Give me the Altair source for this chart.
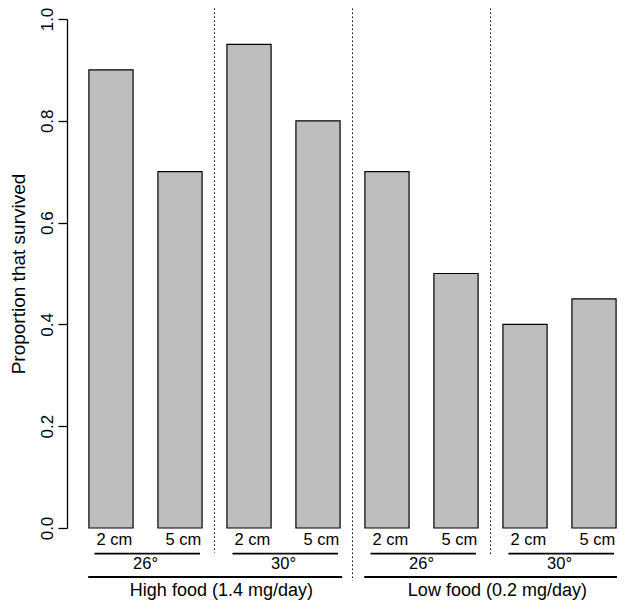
import altair as alt
import pandas as pd

# ---- data ----
depths = ["2 cm", "5 cm", "2 cm", "5 cm", "2 cm", "5 cm", "2 cm", "5 cm"]
survival = [0.90, 0.70, 0.95, 0.80, 0.70, 0.50, 0.40, 0.45]
temps = ["26°", "30°", "26°", "30°"]
temp_start = [0, 2, 4, 6]
foods = ["High food (1.4 mg/day)", "Low food (0.2 mg/day)"]
food_start = [0, 4]
separators = [1.5, 3.5, 5.5]
sep_bottom = [-0.049, -0.104, -0.052]
y_ticks = [0.0, 0.2, 0.4, 0.6, 0.8, 1.0]

FONT = "Liberation Sans"
XDOM = [-0.6377, 7.3333]
YDOM = [0.0, 1.0]

n = len(survival)
bars = pd.DataFrame({"pos": list(range(n)), "depth": depths, "survival": survival})
bars["x0"] = bars["pos"] - 0.32
bars["x1"] = bars["pos"] + 0.32
bars["zero"] = 0.0
bars["lx"] = bars["pos"] + 0.05
bars["ly"] = -0.0326

temp_df = pd.DataFrame({"label": temps, "start": temp_start})
temp_df["x0"] = temp_df["start"] - 0.24
temp_df["x1"] = temp_df["start"] + 1.29
temp_df["xc"] = temp_df["start"] + 0.5
temp_df["yl"] = -0.0505
temp_df["yt"] = -0.080

food_df = pd.DataFrame({"label": foods, "start": food_start})
food_df["x0"] = food_df["start"] - 0.33
food_df["x1"] = food_df["start"] + 3.35
food_df["xc"] = food_df["start"] + 1.6
food_df["yl"] = -0.0963
food_df["yt"] = -0.1336

sep_df = pd.DataFrame({"x": separators, "ybot": sep_bottom})
sep_df["ytop"] = 1.06

yaxis = alt.Axis(
    values=y_ticks, format=".1f", grid=False,
    labelAngle=270, labelAlign="center", labelBaseline="alphabetic", labelPadding=6,
    labelFont=FONT, labelFontSize=17, labelColor="black",
    tickSize=9, tickWidth=1.3, tickColor="black",
    domainColor="black", domainWidth=1.3,
    title="Proportion that survived", titleFont=FONT, titleFontSize=19,
    titleFontWeight="normal", titleColor="black", titleAngle=270,
    titleX=-58, titleY=254.5, titleAlign="center", titleBaseline="top",
)


def xs(field):
    return alt.X(field, type="quantitative", scale=alt.Scale(domain=XDOM, nice=False, zero=False), axis=None)


def ys(field):
    return alt.Y(field, type="quantitative", scale=alt.Scale(domain=YDOM, nice=False, zero=False), axis=yaxis)


bar_layer = alt.Chart(bars).mark_rect(fill="#BEBEBE", stroke="black", strokeWidth=1.2).encode(
    x=xs("x0"), x2="x1", y=ys("survival"), y2="zero"
)

depth_text = alt.Chart(bars).mark_text(font=FONT, fontSize=16.5, color="black", baseline="alphabetic").encode(
    x=xs("lx"), y=ys("ly"), text="depth:N"
)

sep_layer = alt.Chart(sep_df).mark_rule(color="black", strokeWidth=1, strokeDash=[1.5, 2.5]).encode(
    x=xs("x"), y=ys("ytop"), y2="ybot"
)

temp_line = alt.Chart(temp_df).mark_rule(color="black", strokeWidth=1.8).encode(
    x=xs("x0"), x2="x1", y=ys("yl")
)
temp_text = alt.Chart(temp_df).mark_text(font=FONT, fontSize=16.5, color="black", baseline="alphabetic").encode(
    x=xs("xc"), y=ys("yt"), text="label:N"
)

food_line = alt.Chart(food_df).mark_rule(color="black", strokeWidth=1.8).encode(
    x=xs("x0"), x2="x1", y=ys("yl")
)
food_text = alt.Chart(food_df).mark_text(font=FONT, fontSize=18, color="black", baseline="alphabetic").encode(
    x=xs("xc"), y=ys("yt"), text="label:N"
)

chart = alt.layer(
    bar_layer, sep_layer, depth_text, temp_line, temp_text, food_line, food_text
).properties(
    width=550, height=509,
    autosize=alt.AutoSizeParams(type="none"),
    padding={"left": 59, "top": 11, "right": 0, "bottom": 72},
    background="white",
).configure_view(stroke=None)

chart.save("out.html", embed_options={"renderer": "svg", "actions": False})
